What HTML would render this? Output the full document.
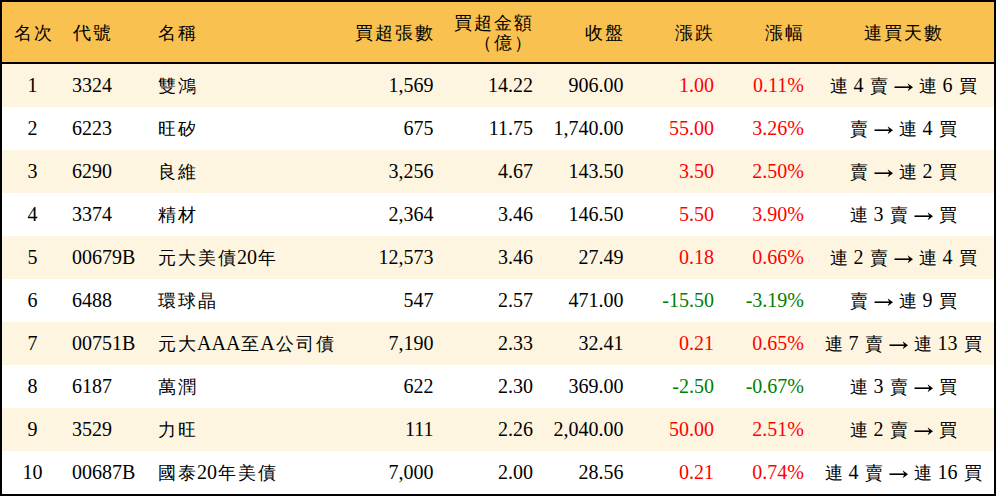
<!DOCTYPE html>
<html><head><meta charset="utf-8"><style>
html,body{margin:0;padding:0;background:#fff;}
#root{position:relative;width:996px;height:496px;overflow:hidden;font-family:"Liberation Serif",serif;font-size:20px;color:#000;}
.c{position:absolute;white-space:nowrap;text-spacing-trim:space-all;}
.b{position:absolute;background:#000;}
.hd{position:absolute;left:2px;top:2px;width:992px;height:60px;background:#F8C150;}
.rw{position:absolute;left:2px;width:992px;height:43px;}
.odd{background:#FEF5E0;}
.r{color:#FF0000;}
.g{color:#008000;}
.ar{display:inline-block;vertical-align:middle;}
.hc{letter-spacing:0px;}
.k{font-size:18.0px;letter-spacing:2.0px;position:relative;left:1.0px;}
</style></head><body><div id="root">
<div class="hd"></div>
<div class="rw odd" style="top:64px"></div>
<div class="rw " style="top:107px"></div>
<div class="rw odd" style="top:150px"></div>
<div class="rw " style="top:193px"></div>
<div class="rw odd" style="top:236px"></div>
<div class="rw " style="top:279px"></div>
<div class="rw odd" style="top:322px"></div>
<div class="rw " style="top:365px"></div>
<div class="rw odd" style="top:408px"></div>
<div class="rw " style="top:451px"></div>
<div class="c hc" style="left:-117.5px;width:300px;text-align:center;top:2px;height:60px;line-height:60px"><span class="k">名次</span></div>
<div class="c hc" style="left:72px;top:2px;height:60px;line-height:60px"><span class="k">代號</span></div>
<div class="c hc" style="left:157px;top:2px;height:60px;line-height:60px"><span class="k">名稱</span></div>
<div class="c hc" style="left:133.5px;width:300px;text-align:right;top:2px;height:60px;line-height:60px"><span class="k">買超張數</span></div>
<div class="c hc" style="left:233px;width:300px;text-align:right;top:13px;line-height:19px"><span class="k">買超金額</span><br><span class="k">（億）</span></div>
<div class="c hc" style="left:323.5px;width:300px;text-align:right;top:2px;height:60px;line-height:60px"><span class="k">收盤</span></div>
<div class="c hc" style="left:414px;width:300px;text-align:right;top:2px;height:60px;line-height:60px"><span class="k">漲跌</span></div>
<div class="c hc" style="left:504px;width:300px;text-align:right;top:2px;height:60px;line-height:60px"><span class="k">漲幅</span></div>
<div class="c hc" style="left:753px;width:300px;text-align:center;top:2px;height:60px;line-height:60px"><span class="k">連買天數</span></div>
<div class="c " style="left:-117.5px;width:300px;text-align:center;top:64px;height:43px;line-height:43px">1</div>
<div class="c " style="left:72px;top:64px;height:43px;line-height:43px">3324</div>
<div class="c " style="left:157px;top:64px;height:43px;line-height:43px"><span class="k">雙鴻</span></div>
<div class="c " style="left:133.5px;width:300px;text-align:right;top:64px;height:43px;line-height:43px">1,569</div>
<div class="c " style="left:233px;width:300px;text-align:right;top:64px;height:43px;line-height:43px">14.22</div>
<div class="c " style="left:323.5px;width:300px;text-align:right;top:64px;height:43px;line-height:43px">906.00</div>
<div class="c r" style="left:414px;width:300px;text-align:right;top:64px;height:43px;line-height:43px">1.00</div>
<div class="c r" style="left:504px;width:300px;text-align:right;top:64px;height:43px;line-height:43px">0.11%</div>
<div class="c " style="left:753px;width:300px;text-align:center;top:64px;height:43px;line-height:43px"><span class="k">連</span> 4 <span class="k">賣</span> <svg class="ar" width="19" height="10" viewBox="0 0 19 10"><path d="M0.5 5.2H16" stroke="#000" stroke-width="1.6"/><path d="M13.6 1.2L19 5.2L13.6 9.2L15.4 5.2Z" fill="#000"/></svg> <span class="k">連</span> 6 <span class="k">買</span></div>
<div class="c " style="left:-117.5px;width:300px;text-align:center;top:107px;height:43px;line-height:43px">2</div>
<div class="c " style="left:72px;top:107px;height:43px;line-height:43px">6223</div>
<div class="c " style="left:157px;top:107px;height:43px;line-height:43px"><span class="k">旺矽</span></div>
<div class="c " style="left:133.5px;width:300px;text-align:right;top:107px;height:43px;line-height:43px">675</div>
<div class="c " style="left:233px;width:300px;text-align:right;top:107px;height:43px;line-height:43px">11.75</div>
<div class="c " style="left:323.5px;width:300px;text-align:right;top:107px;height:43px;line-height:43px">1,740.00</div>
<div class="c r" style="left:414px;width:300px;text-align:right;top:107px;height:43px;line-height:43px">55.00</div>
<div class="c r" style="left:504px;width:300px;text-align:right;top:107px;height:43px;line-height:43px">3.26%</div>
<div class="c " style="left:753px;width:300px;text-align:center;top:107px;height:43px;line-height:43px"><span class="k">賣</span> <svg class="ar" width="19" height="10" viewBox="0 0 19 10"><path d="M0.5 5.2H16" stroke="#000" stroke-width="1.6"/><path d="M13.6 1.2L19 5.2L13.6 9.2L15.4 5.2Z" fill="#000"/></svg> <span class="k">連</span> 4 <span class="k">買</span></div>
<div class="c " style="left:-117.5px;width:300px;text-align:center;top:150px;height:43px;line-height:43px">3</div>
<div class="c " style="left:72px;top:150px;height:43px;line-height:43px">6290</div>
<div class="c " style="left:157px;top:150px;height:43px;line-height:43px"><span class="k">良維</span></div>
<div class="c " style="left:133.5px;width:300px;text-align:right;top:150px;height:43px;line-height:43px">3,256</div>
<div class="c " style="left:233px;width:300px;text-align:right;top:150px;height:43px;line-height:43px">4.67</div>
<div class="c " style="left:323.5px;width:300px;text-align:right;top:150px;height:43px;line-height:43px">143.50</div>
<div class="c r" style="left:414px;width:300px;text-align:right;top:150px;height:43px;line-height:43px">3.50</div>
<div class="c r" style="left:504px;width:300px;text-align:right;top:150px;height:43px;line-height:43px">2.50%</div>
<div class="c " style="left:753px;width:300px;text-align:center;top:150px;height:43px;line-height:43px"><span class="k">賣</span> <svg class="ar" width="19" height="10" viewBox="0 0 19 10"><path d="M0.5 5.2H16" stroke="#000" stroke-width="1.6"/><path d="M13.6 1.2L19 5.2L13.6 9.2L15.4 5.2Z" fill="#000"/></svg> <span class="k">連</span> 2 <span class="k">買</span></div>
<div class="c " style="left:-117.5px;width:300px;text-align:center;top:193px;height:43px;line-height:43px">4</div>
<div class="c " style="left:72px;top:193px;height:43px;line-height:43px">3374</div>
<div class="c " style="left:157px;top:193px;height:43px;line-height:43px"><span class="k">精材</span></div>
<div class="c " style="left:133.5px;width:300px;text-align:right;top:193px;height:43px;line-height:43px">2,364</div>
<div class="c " style="left:233px;width:300px;text-align:right;top:193px;height:43px;line-height:43px">3.46</div>
<div class="c " style="left:323.5px;width:300px;text-align:right;top:193px;height:43px;line-height:43px">146.50</div>
<div class="c r" style="left:414px;width:300px;text-align:right;top:193px;height:43px;line-height:43px">5.50</div>
<div class="c r" style="left:504px;width:300px;text-align:right;top:193px;height:43px;line-height:43px">3.90%</div>
<div class="c " style="left:753px;width:300px;text-align:center;top:193px;height:43px;line-height:43px"><span class="k">連</span> 3 <span class="k">賣</span> <svg class="ar" width="19" height="10" viewBox="0 0 19 10"><path d="M0.5 5.2H16" stroke="#000" stroke-width="1.6"/><path d="M13.6 1.2L19 5.2L13.6 9.2L15.4 5.2Z" fill="#000"/></svg> <span class="k">買</span></div>
<div class="c " style="left:-117.5px;width:300px;text-align:center;top:236px;height:43px;line-height:43px">5</div>
<div class="c " style="left:72px;top:236px;height:43px;line-height:43px">00679B</div>
<div class="c " style="left:157px;top:236px;height:43px;line-height:43px"><span class="k">元大美債</span>20<span class="k">年</span></div>
<div class="c " style="left:133.5px;width:300px;text-align:right;top:236px;height:43px;line-height:43px">12,573</div>
<div class="c " style="left:233px;width:300px;text-align:right;top:236px;height:43px;line-height:43px">3.46</div>
<div class="c " style="left:323.5px;width:300px;text-align:right;top:236px;height:43px;line-height:43px">27.49</div>
<div class="c r" style="left:414px;width:300px;text-align:right;top:236px;height:43px;line-height:43px">0.18</div>
<div class="c r" style="left:504px;width:300px;text-align:right;top:236px;height:43px;line-height:43px">0.66%</div>
<div class="c " style="left:753px;width:300px;text-align:center;top:236px;height:43px;line-height:43px"><span class="k">連</span> 2 <span class="k">賣</span> <svg class="ar" width="19" height="10" viewBox="0 0 19 10"><path d="M0.5 5.2H16" stroke="#000" stroke-width="1.6"/><path d="M13.6 1.2L19 5.2L13.6 9.2L15.4 5.2Z" fill="#000"/></svg> <span class="k">連</span> 4 <span class="k">買</span></div>
<div class="c " style="left:-117.5px;width:300px;text-align:center;top:279px;height:43px;line-height:43px">6</div>
<div class="c " style="left:72px;top:279px;height:43px;line-height:43px">6488</div>
<div class="c " style="left:157px;top:279px;height:43px;line-height:43px"><span class="k">環球晶</span></div>
<div class="c " style="left:133.5px;width:300px;text-align:right;top:279px;height:43px;line-height:43px">547</div>
<div class="c " style="left:233px;width:300px;text-align:right;top:279px;height:43px;line-height:43px">2.57</div>
<div class="c " style="left:323.5px;width:300px;text-align:right;top:279px;height:43px;line-height:43px">471.00</div>
<div class="c g" style="left:414px;width:300px;text-align:right;top:279px;height:43px;line-height:43px">-15.50</div>
<div class="c g" style="left:504px;width:300px;text-align:right;top:279px;height:43px;line-height:43px">-3.19%</div>
<div class="c " style="left:753px;width:300px;text-align:center;top:279px;height:43px;line-height:43px"><span class="k">賣</span> <svg class="ar" width="19" height="10" viewBox="0 0 19 10"><path d="M0.5 5.2H16" stroke="#000" stroke-width="1.6"/><path d="M13.6 1.2L19 5.2L13.6 9.2L15.4 5.2Z" fill="#000"/></svg> <span class="k">連</span> 9 <span class="k">買</span></div>
<div class="c " style="left:-117.5px;width:300px;text-align:center;top:322px;height:43px;line-height:43px">7</div>
<div class="c " style="left:72px;top:322px;height:43px;line-height:43px">00751B</div>
<div class="c " style="left:157px;top:322px;height:43px;line-height:43px"><span class="k">元大</span>AAA<span class="k">至</span>A<span class="k">公司債</span></div>
<div class="c " style="left:133.5px;width:300px;text-align:right;top:322px;height:43px;line-height:43px">7,190</div>
<div class="c " style="left:233px;width:300px;text-align:right;top:322px;height:43px;line-height:43px">2.33</div>
<div class="c " style="left:323.5px;width:300px;text-align:right;top:322px;height:43px;line-height:43px">32.41</div>
<div class="c r" style="left:414px;width:300px;text-align:right;top:322px;height:43px;line-height:43px">0.21</div>
<div class="c r" style="left:504px;width:300px;text-align:right;top:322px;height:43px;line-height:43px">0.65%</div>
<div class="c " style="left:753px;width:300px;text-align:center;top:322px;height:43px;line-height:43px"><span class="k">連</span> 7 <span class="k">賣</span> <svg class="ar" width="19" height="10" viewBox="0 0 19 10"><path d="M0.5 5.2H16" stroke="#000" stroke-width="1.6"/><path d="M13.6 1.2L19 5.2L13.6 9.2L15.4 5.2Z" fill="#000"/></svg> <span class="k">連</span> 13 <span class="k">買</span></div>
<div class="c " style="left:-117.5px;width:300px;text-align:center;top:365px;height:43px;line-height:43px">8</div>
<div class="c " style="left:72px;top:365px;height:43px;line-height:43px">6187</div>
<div class="c " style="left:157px;top:365px;height:43px;line-height:43px"><span class="k">萬潤</span></div>
<div class="c " style="left:133.5px;width:300px;text-align:right;top:365px;height:43px;line-height:43px">622</div>
<div class="c " style="left:233px;width:300px;text-align:right;top:365px;height:43px;line-height:43px">2.30</div>
<div class="c " style="left:323.5px;width:300px;text-align:right;top:365px;height:43px;line-height:43px">369.00</div>
<div class="c g" style="left:414px;width:300px;text-align:right;top:365px;height:43px;line-height:43px">-2.50</div>
<div class="c g" style="left:504px;width:300px;text-align:right;top:365px;height:43px;line-height:43px">-0.67%</div>
<div class="c " style="left:753px;width:300px;text-align:center;top:365px;height:43px;line-height:43px"><span class="k">連</span> 3 <span class="k">賣</span> <svg class="ar" width="19" height="10" viewBox="0 0 19 10"><path d="M0.5 5.2H16" stroke="#000" stroke-width="1.6"/><path d="M13.6 1.2L19 5.2L13.6 9.2L15.4 5.2Z" fill="#000"/></svg> <span class="k">買</span></div>
<div class="c " style="left:-117.5px;width:300px;text-align:center;top:408px;height:43px;line-height:43px">9</div>
<div class="c " style="left:72px;top:408px;height:43px;line-height:43px">3529</div>
<div class="c " style="left:157px;top:408px;height:43px;line-height:43px"><span class="k">力旺</span></div>
<div class="c " style="left:133.5px;width:300px;text-align:right;top:408px;height:43px;line-height:43px">111</div>
<div class="c " style="left:233px;width:300px;text-align:right;top:408px;height:43px;line-height:43px">2.26</div>
<div class="c " style="left:323.5px;width:300px;text-align:right;top:408px;height:43px;line-height:43px">2,040.00</div>
<div class="c r" style="left:414px;width:300px;text-align:right;top:408px;height:43px;line-height:43px">50.00</div>
<div class="c r" style="left:504px;width:300px;text-align:right;top:408px;height:43px;line-height:43px">2.51%</div>
<div class="c " style="left:753px;width:300px;text-align:center;top:408px;height:43px;line-height:43px"><span class="k">連</span> 2 <span class="k">賣</span> <svg class="ar" width="19" height="10" viewBox="0 0 19 10"><path d="M0.5 5.2H16" stroke="#000" stroke-width="1.6"/><path d="M13.6 1.2L19 5.2L13.6 9.2L15.4 5.2Z" fill="#000"/></svg> <span class="k">買</span></div>
<div class="c " style="left:-117.5px;width:300px;text-align:center;top:451px;height:43px;line-height:43px">10</div>
<div class="c " style="left:72px;top:451px;height:43px;line-height:43px">00687B</div>
<div class="c " style="left:157px;top:451px;height:43px;line-height:43px"><span class="k">國泰</span>20<span class="k">年美債</span></div>
<div class="c " style="left:133.5px;width:300px;text-align:right;top:451px;height:43px;line-height:43px">7,000</div>
<div class="c " style="left:233px;width:300px;text-align:right;top:451px;height:43px;line-height:43px">2.00</div>
<div class="c " style="left:323.5px;width:300px;text-align:right;top:451px;height:43px;line-height:43px">28.56</div>
<div class="c r" style="left:414px;width:300px;text-align:right;top:451px;height:43px;line-height:43px">0.21</div>
<div class="c r" style="left:504px;width:300px;text-align:right;top:451px;height:43px;line-height:43px">0.74%</div>
<div class="c " style="left:753px;width:300px;text-align:center;top:451px;height:43px;line-height:43px"><span class="k">連</span> 4 <span class="k">賣</span> <svg class="ar" width="19" height="10" viewBox="0 0 19 10"><path d="M0.5 5.2H16" stroke="#000" stroke-width="1.6"/><path d="M13.6 1.2L19 5.2L13.6 9.2L15.4 5.2Z" fill="#000"/></svg> <span class="k">連</span> 16 <span class="k">買</span></div>
<div class="b" style="left:0;top:0;width:996px;height:2px"></div>
<div class="b" style="left:0;top:494px;width:996px;height:2px"></div>
<div class="b" style="left:0;top:0;width:2px;height:496px"></div>
<div class="b" style="left:994px;top:0;width:2px;height:496px"></div>
<div class="b" style="left:0;top:62px;width:996px;height:2px"></div>
</div></body></html>
